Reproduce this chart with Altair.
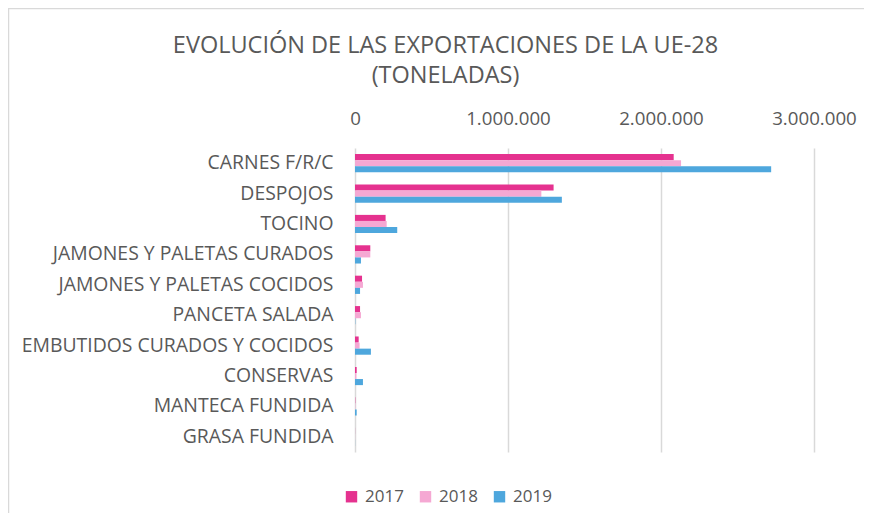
import altair as alt
import pandas as pd

categories = ["CARNES F/R/C", "DESPOJOS", "TOCINO", "JAMONES Y PALETAS CURADOS",
              "JAMONES Y PALETAS COCIDOS", "PANCETA SALADA", "EMBUTIDOS CURADOS Y COCIDOS",
              "CONSERVAS", "MANTECA FUNDIDA", "GRASA FUNDIDA"]
years = ["2017", "2018", "2019"]
v2017 = [2083000, 1298000, 200000, 100000, 46000, 33000, 24000, 11000, 2000, 500]
v2018 = [2131000, 1218000, 207000, 100000, 52000, 39000, 30000, 9000, 2000, 500]
v2019 = [2720000, 1352000, 276000, 39000, 33000, 2000, 104000, 52000, 11000, 500]
x_ticks = [0, 1000000, 2000000, 3000000]
colors = ["#E5328F", "#F5A8D3", "#4EA7DD"]

rows = []
for yr, vals in zip(years, [v2017, v2018, v2019]):
    for c, v in zip(categories, vals):
        rows.append({"cat": c, "year": yr, "value": v})
df = pd.DataFrame(rows)

FONT = "Open Sans"
GREY = "#595959"

bars = alt.Chart(df).mark_bar().encode(
    y=alt.Y("cat:N", sort=categories, title=None,
            scale=alt.Scale(paddingInner=0.4, paddingOuter=0.2),
            axis=alt.Axis(ticks=False, domain=False, labelPadding=22,
                          labelFontSize=19.4, labelColor=GREY, labelFont=FONT,
                          labelLimit=400)),
    yOffset=alt.YOffset("year:N", sort=years),
    x=alt.X("value:Q", title=None,
            scale=alt.Scale(domain=[0, 3000000], nice=False),
            axis=alt.Axis(orient="top", values=x_ticks, ticks=False, domain=False,
                          grid=True, gridColor="#D9D9D9", gridWidth=1.5,
                          labelFontSize=18.7, labelColor=GREY, labelFont=FONT,
                          labelPadding=20, labelFlush=False, labelOverlap=False,
                          labelExpr="replace(format(datum.value, ','), regexp(',', 'g'), '.')")),
    color=alt.Color("year:N", sort=years, title=None,
                    scale=alt.Scale(domain=years, range=colors),
                    legend=alt.Legend(orient="none", direction="horizontal",
                                      legendX=-12, legendY=340,
                                      symbolType="square", symbolSize=130,
                                      symbolStrokeWidth=0, labelFontSize=17,
                                      labelColor=GREY, labelFont=FONT,
                                      columnPadding=13, labelOffset=5)),
)

frame = alt.Data(values=[{}])
top_line = alt.Chart(frame).mark_rule(stroke="#D9D9D9", strokeWidth=1.5).encode(
    x=alt.value(-347), x2=alt.value(509), y=alt.value(-139.5)
)
left_line = alt.Chart(frame).mark_rule(stroke="#D9D9D9", strokeWidth=1.5).encode(
    x=alt.value(-346.5), y=alt.value(-140), y2=alt.value(365)
)

chart = alt.layer(top_line, left_line, bars).properties(
    width=459, height=304,
    padding={"left": 347, "top": 140, "right": 50, "bottom": 61},
    autosize=alt.AutoSizeParams(type="none"),
    title=alt.Title(["EVOLUCIÓN DE LAS EXPORTACIONES DE LA UE-28", "(TONELADAS)"],
                    font=FONT, fontSize=23.5, fontWeight="normal", color=GREY,
                    anchor="middle", dx=-139, offset=0, dy=80, lineHeight=30),
).configure_view(stroke=None)

chart.save("out.html", embed_options={"renderer": "svg", "actions": False})
